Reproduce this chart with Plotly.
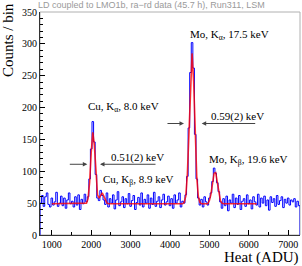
import plotly.graph_objects as go

# Histogram binning (ADU)
bin_start = 700
bin_width = 40

# Counts per bin, bins starting at 700 ADU, 40 ADU wide
counts = [
    50, 62, 45, 60, 66, 48, 44, 58, 47, 52,
    67, 45, 50, 61, 46, 58, 42, 55, 66, 49,
    53, 44, 60, 47, 63, 40, 56, 49, 64, 52,
    60, 88, 135, 178, 146, 95, 58, 54, 70, 62,
    55, 48, 66, 44, 57, 50, 63, 41, 55, 68,
    46, 52, 60, 43, 57, 49, 65, 45, 54, 62,
    40, 51, 59, 47, 66, 44, 56, 50, 63, 42,
    58, 48, 67, 45, 53, 60, 43, 55, 64, 47,
    52, 61, 46, 57, 42, 63, 50, 55, 66, 44,
    53, 50, 63, 92, 168, 255, 302, 262, 158, 88,
    58, 47, 56, 44, 60, 52, 47, 58, 66, 84,
    105, 97, 82, 68, 52, 42, 57, 46, 61, 38,
    55, 50, 64, 43, 58, 48, 62, 40, 53, 57,
    45, 63, 49, 55, 41, 60, 52, 47, 64, 44,
    58, 50, 61, 46, 55, 39, 60, 51, 57, 45,
    62, 48, 54, 60, 43, 56, 50, 58, 47, 55,
    52, 57, 44, 53, 46,
]

# Fit curve
fit_x = [1000, 1840, 1880, 1920, 1960, 2000, 2040, 2080, 2120, 2160, 2200, 2240,
         2280, 2320, 2360, 2400, 2440, 4320, 4360, 4400, 4440, 4480, 4520, 4560,
         4600, 4640, 4680, 4720, 4760, 4800, 4960, 5000, 5040, 5080, 5120, 5160,
         5200, 5240, 5280, 5320, 5360, 6200]
fit_y = [49, 49, 50, 57, 83, 129, 161, 141, 93, 63, 58, 63,
         66, 61, 54, 50, 49, 49, 51, 61, 94, 164, 248, 285,
         241, 156, 90, 60, 51, 49, 49, 54, 64, 81, 97, 98,
         83, 65, 54, 50, 49, 49]

x_ticks = [1000, 2000, 3000, 4000, 5000, 6000, 7000]
y_ticks = [0, 50, 100, 150, 200, 250, 300, 350]

n = len(counts)
edges = [bin_start + bin_width * i for i in range(n + 1)]
hx = [edges[0]] + edges[:n] + [edges[n], edges[n]]
hy = [0] + counts + [counts[-1], 0]

SERIF = "Liberation Serif"

fig = go.Figure()
fig.add_trace(go.Scatter(x=hx, y=hy, mode="lines", line=dict(color="#0000ff", width=1, shape="hv"),
                         showlegend=False, hoverinfo="skip"))
fig.add_trace(go.Scatter(x=fit_x, y=fit_y, mode="lines", line=dict(color="rgba(255,0,0,0.8)", width=1.6),
                         showlegend=False, hoverinfo="skip"))

ann_font = dict(family=SERIF, size=11, color="black")
annotations = [
    dict(x=1868, y=201, text="Cu, K<sub>α</sub>, 8.0 keV", xanchor="left", yanchor="middle"),
    dict(x=4457, y=314, text="Mo, K<sub>α</sub>, 17.5 keV", xanchor="left", yanchor="middle"),
    dict(x=4990, y=186, text="0.59(2) keV", xanchor="left", yanchor="middle"),
    dict(x=4939, y=117, text="Mo, K<sub>β</sub>, 19.6 keV", xanchor="left", yanchor="middle"),
    dict(x=2452, y=121, text="0.51(2) keV", xanchor="left", yanchor="middle"),
    dict(x=2241, y=86, text="Cu, K<sub>β</sub>, 8.9 keV", xanchor="left", yanchor="middle"),
]
for a in annotations:
    a.update(xref="x", yref="y", showarrow=False, font=ann_font)

arrow_style = dict(xref="x", yref="y", text="", showarrow=True, arrowhead=2, arrowsize=0.9,
                   arrowwidth=1, arrowcolor="#444444", ay=0)
arrows = [
    dict(x=4805, y=175, ax=55),
    dict(x=4355, y=175, ax=-18),
    dict(x=2223, y=111, ax=57),
    dict(x=1901, y=111, ax=-19),
]
for a in arrows:
    a.update(arrow_style)

# texts outside plot
outside = [
    dict(xref="paper", yref="paper", x=(36 - 40) / 260, y=(235 - 5) / 223, xanchor="left", yanchor="middle",
         text="LD coupled to LMO1b, ra−rd data (45.7 h), Run311, LSM", showarrow=False,
         font=dict(family="Liberation Sans", size=9, color="#9a9a9a")),
    dict(xref="paper", yref="paper", x=(8 - 40) / 260, y=(235 - 1) / 223, xanchor="center", yanchor="top",
         text="Counts / bin", textangle=-90, showarrow=False, font=dict(family=SERIF, size=15, color="black")),
    dict(xref="paper", yref="paper", x=(301 - 40) / 260, y=(235 - 257) / 223, xanchor="right", yanchor="middle",
         text="Heat (ADU)", showarrow=False, font=dict(family=SERIF, size=15, color="black")),
]

fig.update_layout(
    width=302, height=266,
    margin=dict(l=40, r=2, t=12, b=31),
    paper_bgcolor="white", plot_bgcolor="white",
    annotations=annotations + arrows + outside,
    shapes=[dict(type="rect", xref="paper", yref="paper", x0=0, x1=1, y0=0, y1=1,
                 line=dict(color="#b0b0b0", width=1), layer="below")],
    xaxis=dict(range=[700, 7300], tickvals=x_ticks, ticks="inside", ticklen=5, tickcolor="black",
               showline=True, linecolor="#333333", linewidth=1, showgrid=False, zeroline=False,
               tickfont=dict(family=SERIF, size=10, color="black"),
               minor=dict(dtick=500, tick0=0, ticks="inside", ticklen=3, tickcolor="black")),
    yaxis=dict(range=[0, 350], tickvals=y_ticks, ticks="inside", ticklen=5, tickcolor="black",
               showline=True, linecolor="#333333", linewidth=1, showgrid=False, zeroline=False,
               tickfont=dict(family=SERIF, size=10, color="black"),
               minor=dict(dtick=10, tick0=0, ticks="inside", ticklen=3, tickcolor="black")),
)

fig.write_html("out.html", config={"displayModeBar": False},
               post_script="document.body.style.margin='0';document.body.style.overflow='hidden';")
